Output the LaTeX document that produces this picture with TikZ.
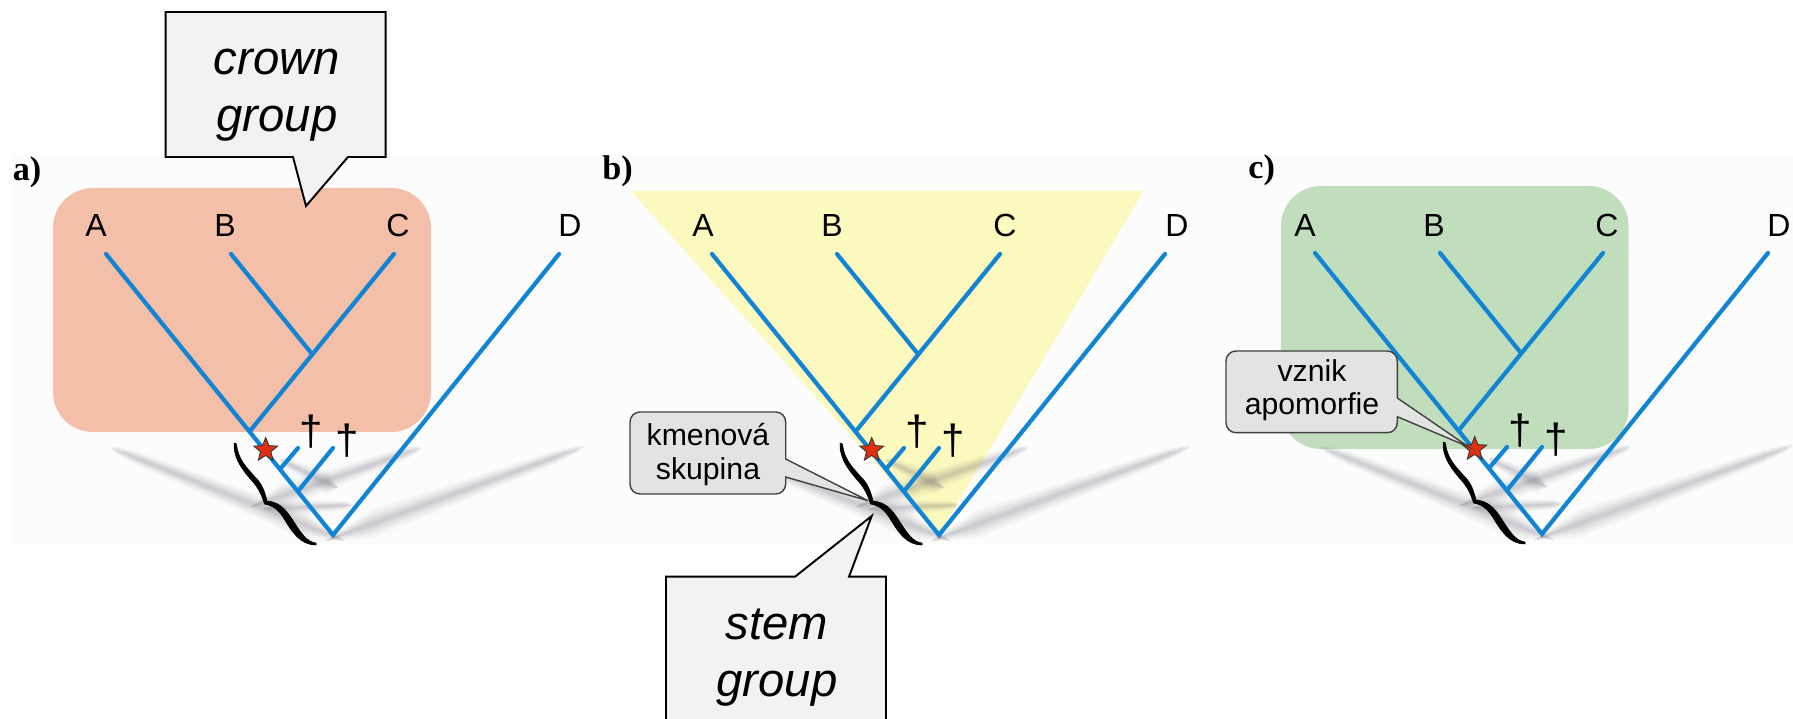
\documentclass[tikz,border=0pt]{standalone}
\usepackage{fontspec}
\setmainfont{Liberation Sans}
\newfontfamily\panelfont{Liberation Serif}
\usetikzlibrary{shapes.geometric,calc}
\definecolor{treeblue}{HTML}{1184D4}
\definecolor{orangefill}{HTML}{F4BFA8}
\definecolor{yellowfill}{HTML}{FBF9BD}
\definecolor{greenfill}{HTML}{C0DEBC}
\definecolor{pagebg}{HTML}{FCFCFC}
\definecolor{shadowc}{HTML}{5F5A6E}
\definecolor{starred}{HTML}{E0300F}
\definecolor{bigbox}{HTML}{F2F2F2}
\definecolor{smallbox}{HTML}{E3E3E3}
\tikzset{
  x=0.02cm,y=-0.02cm,
  branch/.style={draw=treeblue,line width=2.4pt,line cap=round,line join=miter},
  taxon/.style={font=\fontsize{18.2}{20}\selectfont,anchor=base,inner sep=0pt},
  dagger/.style={font=\fontsize{24}{24}\selectfont,anchor=center,inner sep=0pt},
  panellabel/.style={font=\panelfont\bfseries\fontsize{19.5}{20}\selectfont,anchor=base west,inner sep=0pt},
  bigcall/.style={draw=black,fill=bigbox,line width=1.1pt,line join=miter},
  smallcall/.style={draw=black!75,fill=smallbox,line width=0.8pt},
  bigtext/.style={font=\itshape\fontsize{26.9}{32.4}\selectfont,align=center,inner sep=0pt},
  smalltext/.style={font=\fontsize{17.2}{18.8}\selectfont,align=center,inner sep=0pt},
  starmark/.style={star,star points=5,star point ratio=2.3,minimum size=0.5cm,inner sep=0pt,fill=starred,draw=black!80,line width=0.5pt},
}
% soft band: far point (#1,#2), near point (#3,#4), half widths #5 and #6
\newcommand{\shadowband}[6]{%
  \foreach \k/\t/\op in {1.7/.10/.024,1.45/.07/.028,1.2/.05/.032,1/.03/.038,.8/.02/.042,.6/.01/.048,.4/0/.052,.22/0/.056}{
    \coordinate (sf) at ($(#1,#2)!\t!(#3,#4)$);
    \coordinate (sn) at ($(#1,#2)!.82!(#3,#4)$);
    \fill[shadowc,opacity=\op] ($(sf)+(0,-\k*#5)$) -- ($(sn)+(0,-\k*#6)$) -- (#3,#4) -- ($(sn)+(0,\k*#6)$) -- ($(sf)+(0,\k*#5)$) -- cycle;
  }}
\newcommand{\shadows}{%
  \shadowband{111}{448}{345}{541}{4}{9}
  \shadowband{583}{447}{325}{541}{4}{9}
  \shadowband{421}{448}{250}{507}{4}{8}
  \shadowband{280}{460}{338}{488}{3}{7}
  \shadowband{352}{505}{262}{509}{3}{5}
}
\newcommand{\treepanel}[1]{%
  \coordinate (#1P) at (333,535);
  \coordinate (#1A) at (106,254);
  \coordinate (#1B) at (231,254);
  \coordinate (#1C) at (394,254);
  \coordinate (#1D) at (559,254);
  \coordinate (#1R) at (250,431);
  \coordinate (#1J) at (312,354);
  \coordinate (#1Ea) at (281,468);
  \coordinate (#1Eb) at (298,448);
  \coordinate (#1Fa) at (299,490);
  \coordinate (#1Fb) at (333,448);
  \draw[branch] (#1A) -- (#1P) -- (#1D);
  \draw[branch] (#1R) -- (#1C);
  \draw[branch] (#1B) -- (#1J);
  \draw[branch] (#1Ea) -- (#1Eb);
  \draw[branch] (#1Fa) -- (#1Fb);
  \node[dagger] (#1d1) at (311,432) {†};
  \node[dagger] (#1d2) at (347.5,441) {†};
  \fill[black,draw=black,line width=0.3pt,line join=round]
    (234,443) .. controls (233,458) and (243,471) .. (253,482)
    .. controls (259,489) and (262,496) .. (264.5,504)
    .. controls (270,505) and (276,507) .. (283,517)
    .. controls (292,532) and (300,545) .. (316,545)
    -- (316,543)
    .. controls (307,542) and (301,533) .. (293,520.5)
    .. controls (285,507.5) and (278,502) .. (267,501)
    .. controls (265,492) and (262,484) .. (256,478)
    .. controls (246,467) and (238,459) .. (236.5,444) -- cycle;
  \node[starmark] (#1star) at (265.7,450) {};
}
\begin{document}
\begin{tikzpicture}
\useasboundingbox (0,0) rectangle (1793,719);
\clip (0,0) rectangle (1793,719);
\fill[pagebg] (12,154) rectangle (1793,545);
% panel fills
\fill[orangefill,rounded corners=0.8cm] (53,188) rectangle (431,432);
\fill[yellowfill] (631,191) -- (1143.6,191) -- (939,534) -- cycle;
\fill[greenfill,rounded corners=0.8cm] (1281,186) rectangle (1628.5,449);
% shadows
\shadows
\begin{scope}[shift={(606,0)}]\shadows\end{scope}
\begin{scope}[shift={(1209,-1)}]\shadows\end{scope}
% trees
\treepanel{a}
\begin{scope}[shift={(606,0)}]\treepanel{b}\end{scope}
\begin{scope}[shift={(1209,-1)}]\treepanel{c}\end{scope}
% taxa
\foreach \lab/\xa in {A/96,B/225,C/398,D/570}{
  \node[taxon] (a\lab t) at (\xa,236.5) {\lab};
  \node[taxon] (b\lab t) at (\xa+607,236.5) {\lab};
  \node[taxon] (c\lab t) at (\xa+1209,236.5) {\lab};
}
% panel labels
\node[panellabel] (la) at (12.5,181) {a)};
\node[panellabel] (lb) at (602,180) {b)};
\node[panellabel] (lc) at (1248,179) {c)};
% crown callout
\coordinate (crownTip) at (306,206);
\draw[bigcall] (165.7,12) -- (385.7,12) -- (385.7,157) -- (348,157) -- (crownTip) -- (293,157) -- (165.7,157) -- cycle;
\node[bigtext] (crown) at (277,95) {crown\\group};
% stem callout
\coordinate (stemTip) at (871.7,516);
\draw[bigcall] (666,730) -- (666,576.7) -- (795,576.7) -- (stemTip) -- (849,576.7) -- (886,576.7) -- (886,730);
\node[bigtext] (stem) at (777,658) {stem\\group};
% kmenova callout
\coordinate (kmTip) at (868,500.7);
\draw[smallcall] (785.7,459) -- (kmTip) -- (785.7,477) -- (785.7,484) arc[start angle=0,end angle=90,radius=10] -- (640,494) arc[start angle=90,end angle=180,radius=10] -- (630,422) arc[start angle=180,end angle=270,radius=10] -- (775.7,412) arc[start angle=-90,end angle=0,radius=10] -- cycle;
\node[smalltext] (km) at (708,454.5) {kmenová\\skupina};
% vznik callout
\coordinate (vzTip) at (1468.3,446.7);
\draw[smallcall] (1397.3,398) -- (vzTip) -- (1397.3,416.7) -- (1397.3,422.7) arc[start angle=0,end angle=90,radius=10] -- (1236,432.7) arc[start angle=90,end angle=180,radius=10] -- (1226,361) arc[start angle=180,end angle=270,radius=10] -- (1387.3,351) arc[start angle=-90,end angle=0,radius=10] -- cycle;
\node[smalltext] (vz) at (1312,390) {vznik\\apomorfie};
\end{tikzpicture}
\end{document}
